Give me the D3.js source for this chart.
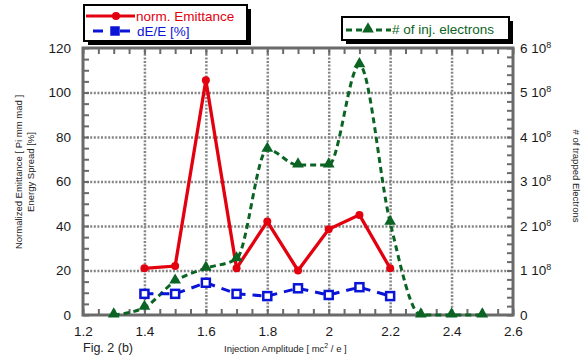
<!DOCTYPE html>
<html>
<head>
<meta charset="utf-8">
<script src="https://cdn.jsdelivr.net/npm/d3@7"></script>
<style>
  body { margin: 0; background: #fff; }
  svg { font-family: "Liberation Sans", Arial, sans-serif; }
</style>
</head>
<body>
<svg id="chart" width="582" height="360"></svg>
<script>
// data
const emitX = [1.4, 1.5, 1.6, 1.7, 1.8, 1.9, 2.0, 2.1, 2.2];
const emitY = [21, 22, 105.5, 21, 42, 20, 38.5, 45, 21];
const spreadY = [9.5, 9.5, 14.5, 9.5, 8.5, 12, 9, 12.5, 8.5];
const elecX = [1.3, 1.4, 1.5, 1.6, 1.7, 1.8, 1.9, 2.0, 2.1, 2.2, 2.3, 2.4, 2.5];
const elecY = [0, 0.17e8, 0.76e8, 1.05e8, 1.26e8, 3.72e8, 3.37e8, 3.37e8, 5.62e8, 2.08e8, 0, 0, 0];
const xTicks = [1.2, 1.4, 1.6, 1.8, 2, 2.2, 2.4, 2.6];
const yLeftTicks = [0, 20, 40, 60, 80, 100, 120];
const yRightTicks = [0, 1e8, 2e8, 3e8, 4e8, 5e8, 6e8];

const red = "#e3000f", blue = "#0a14d6", green = "#0b6423", gridCol = "#858585", frameCol = "#6a6a6a";

const svg = d3.select("#chart");
const L = 83, R = 513, T = 48, B = 315;

const x = d3.scaleLinear().domain([1.2, 2.6]).range([L, R]);
const yL = d3.scaleLinear().domain([0, 120]).range([B, T]);
const yR = d3.scaleLinear().domain([0, 6e8]).range([B, T]);

//grid
svg.append("g").attr("transform", `translate(0,${B})`)
  .call(d3.axisBottom(x).tickValues(xTicks.slice(1, -1)).tickSize(-(B - T)).tickFormat(""))
  .call(g => g.select(".domain").remove())
  .selectAll("line").attr("stroke", gridCol).attr("stroke-width", 2.5).attr("stroke-dasharray", "2,1.6");
svg.append("g").attr("transform", `translate(${L},0)`)
  .call(d3.axisLeft(yL).tickValues(yLeftTicks.slice(1, -1)).tickSize(-(R - L)).tickFormat(""))
  .call(g => g.select(".domain").remove())
  .selectAll("line").attr("stroke", gridCol).attr("stroke-width", 2.5).attr("stroke-dasharray", "2,1.6");

//minor ticks (inward)
const xMinor = d3.range(1.2, 2.6001, 0.05);
const tickStyle = g => {
  g.select(".domain").remove();
  g.selectAll("line").attr("stroke", frameCol).attr("stroke-width", 2);
};
svg.append("g").attr("transform", `translate(0,${B})`)
  .call(d3.axisBottom(x).tickValues(xMinor).tickSize(-6).tickFormat("")).call(tickStyle);
svg.append("g").attr("transform", `translate(0,${T})`)
  .call(d3.axisTop(x).tickValues(xMinor).tickSize(-6).tickFormat("")).call(tickStyle);
svg.append("g").attr("transform", `translate(${L},0)`)
  .call(d3.axisLeft(yL).tickValues(d3.range(0, 121, 5)).tickSize(-6).tickFormat("")).call(tickStyle);
svg.append("g").attr("transform", `translate(${R},0)`)
  .call(d3.axisRight(yR).tickValues(d3.range(0, 6.01e8, 0.2e8)).tickSize(-6).tickFormat("")).call(tickStyle);

//frame
svg.append("rect").attr("x", L).attr("y", T).attr("width", R - L).attr("height", B - T)
  .attr("fill", "none").attr("stroke", frameCol).attr("stroke-width", 3);

//tick labels
const labelStyle = g => {
  g.select(".domain").remove();
  g.selectAll("line").remove();
  g.selectAll("text").attr("font-size", 13.5).attr("fill", "#1a1a1a")
    .attr("font-family", "'Liberation Sans', Arial, sans-serif");
};
svg.append("g").attr("transform", `translate(0,${B})`)
  .call(d3.axisBottom(x).tickValues(xTicks).tickSize(0).tickPadding(11).tickFormat(d3.format("")))
  .call(labelStyle);
svg.append("g").attr("transform", `translate(${L},0)`)
  .call(d3.axisLeft(yL).tickValues(yLeftTicks).tickSize(0).tickPadding(12))
  .call(labelStyle);
svg.append("g").attr("transform", `translate(${R},0)`)
  .call(d3.axisRight(yR).tickValues(yRightTicks).tickSize(0).tickPadding(7).tickFormat(d => d === 0 ? "0" : String(d / 1e8)))
  .call(labelStyle)
  .selectAll("text").each(function(d) {
    if (d === 0) return;
    const t = d3.select(this);
    t.append("tspan").text(" 10");
    t.append("tspan").attr("font-size", 9).attr("dy", "-0.55em").text("8");
  });

//axis titles
svg.append("text").attr("transform", "translate(22,172) rotate(-90)")
  .attr("text-anchor", "middle").attr("font-size", 9.5).attr("fill", "#222")
  .text("Normalized Emittance [ Pi mm mad ]");
svg.append("text").attr("transform", "translate(34,172) rotate(-90)")
  .attr("text-anchor", "middle").attr("font-size", 9.5).attr("fill", "#222")
  .text("Energy Spread [%]");
svg.append("text").attr("transform", "translate(573,176) rotate(90)")
  .attr("text-anchor", "middle").attr("font-size", 9.5).attr("fill", "#222")
  .text("# of trapped Electrons");
const xt = svg.append("text").attr("x", 224).attr("y", 352).attr("font-size", 9.5).attr("fill", "#222");
xt.append("tspan").text("Injection Amplitude [ mc");
xt.append("tspan").attr("font-size", 7).attr("dy", -4).text("2");
xt.append("tspan").attr("dy", 4).text(" / e ]");
svg.append("text").attr("x", 83).attr("y", 352).attr("font-size", 12.5).attr("fill", "#222").text("Fig. 2 (b)");

//series
const emit = emitX.map((d, i) => [d, emitY[i]]);
const spread = emitX.map((d, i) => [d, spreadY[i]]);
const elec = elecX.map((d, i) => [d, elecY[i]]);

svg.append("path").datum(elec)
  .attr("d", d3.line().x(d => x(d[0])).y(d => yR(d[1])).curve(d3.curveMonotoneX))
  .attr("fill", "none").attr("stroke", green).attr("stroke-width", 3).attr("stroke-dasharray", "6,4");
svg.append("path").datum(spread)
  .attr("d", d3.line().x(d => x(d[0])).y(d => yL(d[1])))
  .attr("fill", "none").attr("stroke", blue).attr("stroke-width", 3).attr("stroke-dasharray", "9,7");
svg.append("path").datum(emit)
  .attr("d", d3.line().x(d => x(d[0])).y(d => yL(d[1])))
  .attr("fill", "none").attr("stroke", red).attr("stroke-width", 3.3);

const tri = d3.symbol().type(d3.symbolTriangle).size(60);
svg.selectAll("path.tri").data(elec).enter().append("path").attr("class", "tri")
  .attr("d", tri).attr("transform", d => `translate(${x(d[0])},${yR(d[1]) - 1})`).attr("fill", green);
svg.selectAll("rect.sq").data(spread).enter().append("rect").attr("class", "sq")
  .attr("x", d => x(d[0]) - 4).attr("y", d => yL(d[1]) - 4).attr("width", 8).attr("height", 8)
  .attr("fill", "#fff").attr("stroke", blue).attr("stroke-width", 2.5);
svg.selectAll("circle.dot").data(emit).enter().append("circle").attr("class", "dot")
  .attr("cx", d => x(d[0])).attr("cy", d => yL(d[1])).attr("r", 4).attr("fill", red);

//legends
function legendBox(x0, y0, w, h) {
  svg.append("rect").attr("x", x0 + 4).attr("y", y0 + 4).attr("width", w).attr("height", h).attr("fill", "#000");
  svg.append("rect").attr("x", x0).attr("y", y0).attr("width", w).attr("height", h)
    .attr("fill", "#fff").attr("stroke", "#000").attr("stroke-width", 2);
}
legendBox(84, 5, 163, 36);
svg.append("line").attr("x1", 86).attr("x2", 135).attr("y1", 16).attr("y2", 16).attr("stroke", red).attr("stroke-width", 3);
svg.append("circle").attr("cx", 116).attr("cy", 16).attr("r", 4).attr("fill", red);
svg.append("text").attr("x", 136).attr("y", 20.5).attr("font-size", 13.5).attr("fill", red).text("norm. Emittance");
svg.append("line").attr("x1", 93).attr("x2", 137).attr("y1", 31).attr("y2", 31).attr("stroke", blue).attr("stroke-width", 3).attr("stroke-dasharray", "10,7,0,10");
svg.append("rect").attr("x", 111).attr("y", 27).attr("width", 8).attr("height", 8).attr("fill", blue).attr("stroke", blue).attr("stroke-width", 1.5);
svg.append("text").attr("x", 137).attr("y", 35.5).attr("font-size", 13.5).attr("fill", blue).text("dE/E [%]");

legendBox(342, 17, 167, 23);
svg.append("line").attr("x1", 346).attr("x2", 391).attr("y1", 30).attr("y2", 30).attr("stroke", green).attr("stroke-width", 3).attr("stroke-dasharray", "6,4");
svg.append("path").attr("d", tri).attr("transform", "translate(368,29)").attr("fill", green);
svg.append("text").attr("x", 392).attr("y", 34).attr("font-size", 13.5).attr("fill", green).text("# of inj. electrons");
</script>
</body>
</html>
